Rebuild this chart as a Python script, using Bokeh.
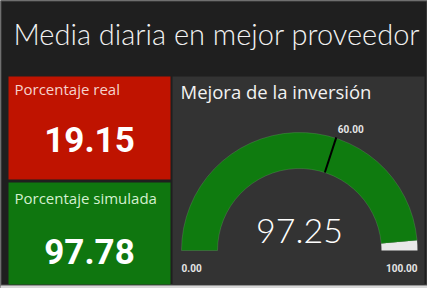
import math
from bokeh.plotting import figure
from bokeh.models import Range1d
from bokeh.core.properties import value
from bokeh.embed import file_html
from bokeh.resources import INLINE

# ---- data ----
title_text = ["Media diaria en mejor proveedor"]
card_labels = ["Porcentaje real", "Porcentaje simulada"]
card_values = [19.15, 97.78]
gauge_title = ["Mejora de la inversión"]
gauge_value = [97.25]
gauge_target = [60.0]
gauge_min = [0.0]
gauge_max = [100.0]

W, H = 427, 288
def Y(py):
    return H - py

p = figure(width=W, height=H, x_range=Range1d(0, W), y_range=Range1d(0, H),
           output_backend="svg", toolbar_location=None, min_border=0,
           background_fill_color="#1f1f1f", border_fill_color="#1f1f1f",
           outline_line_color=None)
p.axis.visible = False
p.grid.visible = False

# outer frame
p.quad(left=[0], right=[W], top=[Y(0)], bottom=[Y(285)], fill_color=None,
       line_color="#505050", line_width=2)
p.quad(left=[0], right=[W], top=[Y(285)], bottom=[Y(288)], fill_color="#d8d8d8", line_color=None)

# title
p.text(x=[13], y=[Y(33)], text=title_text, text_font=value("Lato Light"),
       text_font_size="29px", text_color="#f2f2f2", text_baseline="middle", text_align="left")

# cards
card_fill = ["#bf1300", "#0f760f"]
card_label_color = ["#f6d2cc", "#d4f0d0"]
card_tops = [76, 182]
card_bottoms = [179, 284]
label_cy = [88, 197]
value_cy = [139, 251]
for i in range(2):
    p.quad(left=[8], right=[170], top=[Y(card_tops[i])], bottom=[Y(card_bottoms[i])],
           fill_color=card_fill[i], line_color=None)
    p.text(x=[14], y=[Y(label_cy[i])], text=[card_labels[i]], text_font=value("Open Sans"),
           text_font_size="15px", text_color=card_label_color[i], text_baseline="middle")
    p.text(x=[89], y=[Y(value_cy[i])], text=["%.2f" % card_values[i]], text_font=value("Roboto"),
           text_font_size="35px", text_font_style="bold", text_color="#ffffff",
           text_baseline="middle", text_align="center")

# gauge panel
p.quad(left=[172], right=[424], top=[Y(76)], bottom=[Y(284)], fill_color="#333333", line_color=None)
p.text(x=[180], y=[Y(91)], text=gauge_title, text_font=value("Open Sans"),
       text_font_size="18.5px", text_color="#f2f2f2", text_baseline="middle")

cx, cy = 299, Y(250)
r_in, r_out = 82, 118
frac = (gauge_value[0] - gauge_min[0]) / (gauge_max[0] - gauge_min[0])
a_val = math.pi * (1 - frac)
p.annular_wedge(x=[cx], y=[cy], inner_radius=r_in, outer_radius=r_out,
                start_angle=[0], end_angle=[a_val], fill_color="#e8e8e8", line_color=None)
p.annular_wedge(x=[cx], y=[cy], inner_radius=r_in, outer_radius=r_out,
                start_angle=[a_val], end_angle=[math.pi], fill_color="#0f7b0f",
                line_color="#8fbf8f", line_alpha=0.35, line_width=0.6)

tfrac = (gauge_target[0] - gauge_min[0]) / (gauge_max[0] - gauge_min[0])
a_t = math.pi * (1 - tfrac)
p.segment(x0=[cx + r_in * math.cos(a_t)], y0=[cy + r_in * math.sin(a_t)],
          x1=[cx + (r_out + 1) * math.cos(a_t)], y1=[cy + (r_out + 1) * math.sin(a_t)],
          line_color="#000000", line_width=2)
p.text(x=[cx + 124 * math.cos(a_t)], y=[cy + 124 * math.sin(a_t)], text=["%.2f" % gauge_target[0]],
       text_font=value("Roboto"), text_font_size="10px", text_font_style="bold",
       text_color="#e6e6e6", text_baseline="bottom", text_align="left")

p.text(x=[cx - r_out], y=[Y(267)], text=["%.2f" % gauge_min[0]], text_font=value("Roboto"),
       text_font_size="10px", text_font_style="bold", text_color="#e6e6e6",
       text_baseline="middle", text_align="left")
p.text(x=[cx + r_out], y=[Y(267)], text=["%.2f" % gauge_max[0]], text_font=value("Roboto"),
       text_font_size="10px", text_font_style="bold", text_color="#e6e6e6",
       text_baseline="middle", text_align="right")

p.text(x=[cx], y=[Y(230)], text=["%.2f" % gauge_value[0]], text_font=value("Lato Light"),
       text_font_size="34px", text_color="#ffffff", text_baseline="middle", text_align="center")

open("out.html", "w").write(file_html(p, INLINE))
